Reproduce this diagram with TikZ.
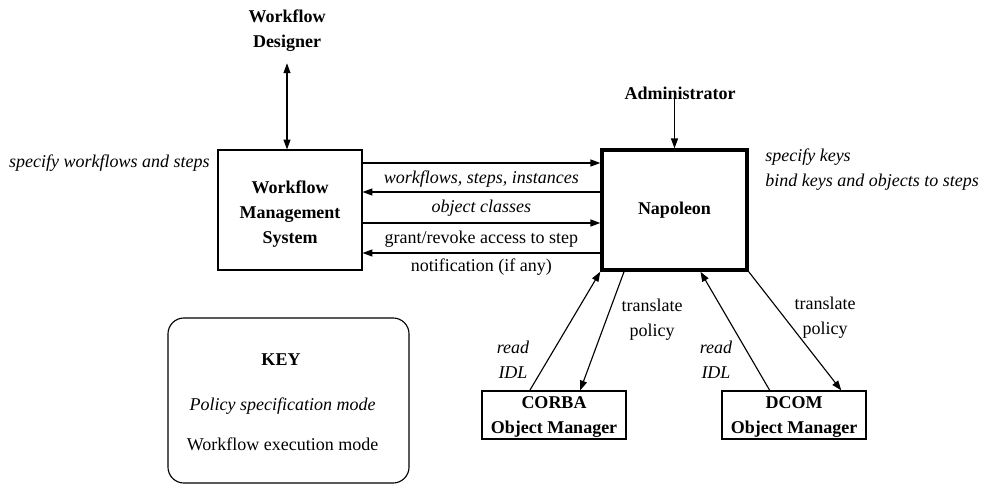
\documentclass[tikz,border=0pt]{standalone}
\usepackage{fontspec}
\setmainfont{Liberation Serif}
\usetikzlibrary{positioning, arrows.meta, calc}
\newcommand{\diagfont}{\fontsize{12.8pt}{17.8pt}\selectfont}
\tikzset{
    % Node Styles
    box/.style={
        rectangle, draw, line width=0.8pt, inner sep=0pt,
        align=center, font=\diagfont\bfseries
    },
    mainbox/.style={box, line width=2.4pt},
    omgr/.style={box, minimum width=3.6cm, minimum height=1.2cm},
    actor/.style={align=center, inner sep=0pt, font=\diagfont\bfseries},
    keybox/.style={draw, rounded corners=0.4cm, line width=0.8pt},
    lbl/.style={inner sep=0pt, align=center, font=\diagfont},
    spec/.style={lbl, font=\diagfont\itshape},
    % Arrow Styles
    flow/.style={-{Triangle[length=7pt, width=5pt]}, line width=0.8pt},
    dflow/.style={{Triangle[length=7pt, width=5pt]}-{Triangle[length=7pt, width=5pt]}, line width=0.8pt}
}

\begin{document}
\begin{tikzpicture}[x=0.025cm, y=-0.025cm]
    \useasboundingbox (0,0) rectangle (982,484);

    % --- 1. Main Boxes ---
    \node [box, minimum width=3.6cm, minimum height=3cm] (wms) at (290,210) {};
    \node [actor] (wmstxt) at (290,214.5) {Workflow\\Management\\System};
    \node [mainbox, minimum width=3.625cm, minimum height=3cm] (nap) at (674.5,210) {Napoleon};

    % --- 2. Actors ---
    \node [actor] (designer) at (287,31) {Workflow\\Designer};
    \draw [dflow] ([yshift=-0.28cm]designer.south) -- (designer.south |- wms.north);

    \node [actor] (admin) at (680,93) {Administrator};
    \draw [flow] (nap.north |- admin.south) ++(0,-6) -- (nap.north);

    \node [spec, anchor=east] (wspec) at (210,163) {specify workflows and steps};
    \node [spec, anchor=west, align=left] (nspec) at (765,170) {specify keys\\bind keys and objects to steps};

    % --- 3. Messages WMS <-> Napoleon ---
    \coordinate (r1) at (0,163);
    \coordinate (r2) at (0,192);
    \coordinate (r3) at (0,223);
    \coordinate (r4) at (0,253);
    \draw [flow] (wms.east |- r1) -- node[spec, below=5pt] (m1) {workflows, steps, instances} (nap.west |- r1);
    \draw [flow] (nap.west |- r2) -- node[spec, below=5pt] (m2) {object classes} (wms.east |- r2);
    \draw [flow] (wms.east |- r3) -- node[lbl, below=5pt] (m3) {grant/revoke access to step} (nap.west |- r3);
    \draw [flow] (nap.west |- r4) -- node[lbl, below=4pt] (m4) {notification (if any)} (wms.east |- r4);

    % --- 4. Object Managers ---
    \node [omgr] (corba) at (554,415) {};
    \node [actor] (corbatxt) at (554,417.5) {CORBA\\Object Manager};
    \node [omgr] (dcom) at (794,415) {};
    \node [actor] (dcomtxt) at (794,417.5) {DCOM\\Object Manager};

    \draw [flow] ($(corba.north west)!0.333!(corba.north east)$) -- (nap.south west);
    \draw [flow] ($(nap.south west)!0.16!(nap.south east)$) -- ($(corba.north west)!0.68!(corba.north east)$);
    \draw [flow] ($(dcom.north west)!0.333!(dcom.north east)$) -- ($(nap.south west)!0.675!(nap.south east)$);
    \draw [flow] (nap.south east) -- ($(dcom.north west)!0.826!(dcom.north east)$);

    \node [spec] (rd1) at (513,360) {read\\IDL};
    \node [lbl] (tp1) at (652,320) {translate\\policy};
    \node [spec] (rd2) at (716,360) {read\\IDL};
    \node [lbl] (tp2) at (825,318) {translate\\policy};

    % --- Key ---
    \node [keybox, minimum width=6.025cm, minimum height=4.125cm] (key) at (288.5,400.5) {};
    \node [actor] (keyttl) at (281,360) {KEY};
    \node [spec] (keyspec) at (282.5,406) {Policy specification mode};
    \node [lbl] (keyexec) at (282.5,444) {Workflow execution mode};

\end{tikzpicture}
\end{document}
